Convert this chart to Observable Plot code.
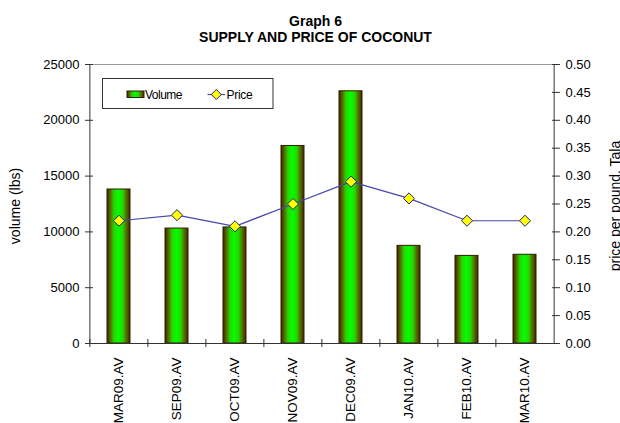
<!DOCTYPE html>
<html><head><meta charset="utf-8">
<script src="https://cdn.jsdelivr.net/npm/d3@7"></script>
<script src="https://cdn.jsdelivr.net/npm/@observablehq/plot@0.6"></script>
<style>body{margin:0;background:#fff;} #chart{width:620px;height:423px;overflow:hidden}</style>
</head><body><div id="chart"></div>
<script>
const months = ["MAR09.AV","SEP09.AV","OCT09.AV","NOV09.AV","DEC09.AV","JAN10.AV","FEB10.AV","MAR10.AV"];
const volume = [13800,10300,10400,17700,22600,8750,7850,7950];
const price = [0.22,0.23,0.21,0.25,0.29,0.26,0.22,0.22];
const volumeTicks = [0,5000,10000,15000,20000,25000];
const priceTicks = [0,0.05,0.10,0.15,0.20,0.25,0.30,0.35,0.40,0.45,0.50];
const titleLines = ["Graph 6","SUPPLY AND PRICE OF COCONUT"];
const yLabelLeft = "volume (lbs)";
const yLabelRight = "price per pound, Tala";
const legendLabels = ["Volume","Price"];

const volMax = 25000, priceMax = 0.5, k = volMax / priceMax;
const data = months.map((m, i) => ({month: m, volume: volume[i], price: price[i]}));

const W = 620, H = 423, mL = 89, mR = 65, mT = 64, mB = 80;
const step = (W - mL - mR) / months.length;
const font = "'Liberation Sans', Arial, sans-serif";
const axisColor = "#333";

const plot = Plot.plot({
  width: W, height: H, marginLeft: mL, marginRight: mR, marginTop: mT, marginBottom: mB,
  style: {fontFamily: font, fontSize: "13px", color: "#000", background: "#fff", overflow: "visible"},
  x: {type: "band", domain: months, paddingInner: 0.6, paddingOuter: 0.3, label: null},
  y: {domain: [0, volMax], label: null},
  marks: [
    Plot.barY(data, {x: "month", y: "volume", fill: "url(#barGrad)", stroke: "#2e2000", strokeWidth: 1}),
    Plot.ruleY([volMax], {stroke: "#9a9a9a"}),
    Plot.ruleY([0], {stroke: axisColor}),
    Plot.ruleX([months[0]], {dx: -step / 2, stroke: axisColor}),
    Plot.ruleX([months[months.length - 1]], {dx: step / 2, stroke: axisColor}),
    Plot.axisX({tickSize: 8, dx: -step / 2, dy: -4, tickFormat: () => "", stroke: axisColor, label: null}),
    Plot.axisX({tickSize: 0, tickRotate: -90, tickPadding: 14, fontSize: 13.5, label: null}),
    Plot.axisY({ticks: volumeTicks, tickFormat: d => String(d), tickSize: 8, dx: 4, tickPadding: 6, fontSize: 13, stroke: axisColor, label: null}),
    Plot.axisY({anchor: "right", ticks: priceTicks.map(p => p * k), tickFormat: d => (d / k).toFixed(2),
                tickSize: 8, dx: -4, tickPadding: 6, fontSize: 13, stroke: axisColor, label: null}),
    Plot.line(data, {x: "month", y: d => d.price * k, stroke: "#4848a8", strokeWidth: 1.2}),
    Plot.dot(data, {x: "month", y: d => d.price * k, symbol: "diamond2", r: 5, fill: "#ffff00", stroke: "#22227a", strokeWidth: 1}),
    Plot.text([yLabelLeft], {text: d => d, frameAnchor: "left", textAnchor: "middle", rotate: -90, dx: -74, dy: 2, fontSize: 14}),
    Plot.text([yLabelRight], {text: d => d, frameAnchor: "right", textAnchor: "middle", rotate: -90, dx: 60, dy: 2, fontSize: 14}),
    Plot.text([titleLines[0]], {text: d => d, frameAnchor: "top", dx: -7, dy: -48, fontSize: 14, fontWeight: "bold", letterSpacing: "-0.8px"}),
    Plot.text([titleLines[1]], {text: d => d, frameAnchor: "top", dx: -7, dy: -32, fontSize: 14, fontWeight: "bold", letterSpacing: "-0.9px"})
  ]
});

const svg = d3.select(plot);
const defs = svg.insert("defs", ":first-child");
const g = defs.append("linearGradient").attr("id", "barGrad").attr("x1", 0).attr("x2", 1).attr("y1", 0).attr("y2", 0);
[[0, "#3a2600"], [0.1, "#565000"], [0.3, "#2ad400"], [0.5, "#00ff00"], [0.68, "#2ad400"], [0.9, "#565000"], [1, "#3a2600"]]
  .forEach(([o, c]) => g.append("stop").attr("offset", o).attr("stop-color", c));

const lg = svg.append("g").attr("font-family", font).attr("font-size", 12).attr("text-anchor", "start");
lg.append("rect").attr("x", 102.5).attr("y", 78.5).attr("width", 170.5).attr("height", 30).attr("fill", "#fff").attr("stroke", "#333");
lg.append("rect").attr("x", 127).attr("y", 91).attr("width", 17).attr("height", 6.5).attr("fill", "url(#barGrad)").attr("stroke", "#2e2000");
lg.append("text").attr("x", 145).attr("y", 98.5).attr("text-anchor", "start").attr("letter-spacing", "-0.5px").text(legendLabels[0]);
lg.append("line").attr("x1", 207.5).attr("x2", 225).attr("y1", 94.5).attr("y2", 94.5).attr("stroke", "#4848a8").attr("stroke-width", 1.2);
lg.append("path").attr("d", "M216.3,89.5L221.3,94.5L216.3,99.5L211.3,94.5Z").attr("fill", "#ffff00").attr("stroke", "#22227a");
lg.append("text").attr("x", 226.5).attr("y", 98.5).attr("text-anchor", "start").attr("letter-spacing", "-0.3px").text(legendLabels[1]);

document.getElementById("chart").appendChild(plot);
</script>
</body></html>
